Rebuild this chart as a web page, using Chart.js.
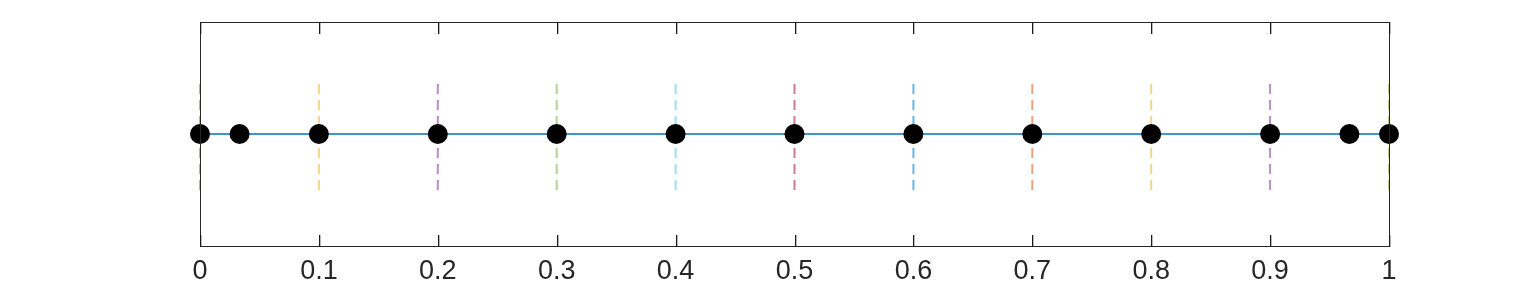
<!DOCTYPE html>
<html>
<head>
<meta charset="utf-8">
<script src="https://cdn.jsdelivr.net/npm/chart.js@4.4.1/dist/chart.umd.min.js"></script>
<style>
  html, body { margin: 0; padding: 0; background: #fff; }
  #wrap { width: 1536px; height: 288px; }
</style>
</head>
<body>
<div id="wrap"><canvas id="plot"></canvas></div>
<script>
// values
const nodeX = [0, 0.0333, 0.1, 0.2, 0.3, 0.4, 0.5, 0.6, 0.7, 0.8, 0.9, 0.9667, 1];
const nodeY = [0, 0, 0, 0, 0, 0, 0, 0, 0, 0, 0, 0, 0];
const lineX = [0, 1];
const lineY = [0, 0];
const gridX = [0, 0.1, 0.2, 0.3, 0.4, 0.5, 0.6, 0.7, 0.8, 0.9, 1];
const gridLow = -0.5;
const gridHigh = 0.5;
const xTicks = [0, 0.1, 0.2, 0.3, 0.4, 0.5, 0.6, 0.7, 0.8, 0.9, 1];

// matlab default colour order, the blue line uses the first one
const matlabColors = [
    [0, 114, 189], [217, 83, 25], [237, 177, 32], [126, 47, 142],
    [119, 172, 48], [77, 190, 238], [162, 20, 47]
];

let datasets = [];

datasets.push({
    data: nodeX.map((x, i) => ({x: x, y: nodeY[i]})),
    showLine: false,
    clip: false,
    pointRadius: 10,
    pointBackgroundColor: '#000',
    pointBorderColor: '#000',
    pointBorderWidth: 0
});

datasets.push({
    data: lineX.map((x, i) => ({x: x, y: lineY[i]})),
    showLine: true,
    borderColor: 'rgb(0,114,189)',
    borderWidth: 1.5,
    pointRadius: 0
});

gridX.forEach(function (x, i) {
    let c = matlabColors[(i + 1) % matlabColors.length];
    datasets.push({
        data: [{x: x, y: gridLow}, {x: x, y: gridHigh}],
        showLine: true,
        clip: false,
        borderColor: 'rgba(' + c.join(',') + ',0.55)',
        borderWidth: 2,
        borderDash: [10, 6],
        pointRadius: 0
    });
});

// box with inward ticks on top and bottom
const boxPlugin = {
    id: 'box',
    afterDraw: function (chart) {
        let ctx = chart.ctx;
        let a = chart.chartArea;
        let xs = chart.scales.x;
        let l = Math.round(a.left) + 0.5, r = Math.round(a.right) + 0.5;
        let t = Math.round(a.top) + 0.5, b = Math.round(a.bottom) + 0.5;
        ctx.save();
        ctx.strokeStyle = '#262626';
        ctx.fillStyle = '#1a1a1a';
        ctx.lineWidth = 1;
        ctx.setLineDash([]);
        ctx.strokeRect(l, t, r - l, b - t);
        xTicks.forEach(function (v) {
            let px = Math.floor(Math.round(xs.getPixelForValue(v)) + 0.5);
            px = Math.min(Math.max(px, Math.floor(l)), Math.floor(r));
            ctx.fillRect(px, Math.floor(b) - 11, 1.3, 12);
            ctx.fillRect(px, Math.floor(t), 1.3, 12);
        });
        ctx.restore();
    }
};

new Chart(document.getElementById('plot'), {
    type: 'scatter',
    data: { datasets: datasets },
    options: {
        responsive: true,
        maintainAspectRatio: false,
        animation: false,
        layout: { padding: { left: 200, right: 147, top: 22, bottom: 0 } },
        plugins: { legend: { display: false }, tooltip: { enabled: false } },
        scales: {
            x: {
                type: 'linear',
                min: 0,
                max: 1,
                grid: { display: false, drawTicks: false },
                border: { display: false },
                afterBuildTicks: function (scale) {
                    scale.ticks = xTicks.map(v => ({value: v}));
                },
                afterFit: function (scale) {
                    scale.height = 42;
                },
                ticks: {
                    autoSkip: false,
                    maxRotation: 0,
                    padding: 9,
                    color: '#262626',
                    font: { family: 'Liberation Sans, Arial, sans-serif', size: 27, lineHeight: 1.2 },
                    callback: function (v) { return String(Math.round(v * 10) / 10); }
                }
            },
            y: { display: false, min: -1, max: 1 }
        }
    },
    plugins: [boxPlugin]
});
</script>
</body>
</html>
